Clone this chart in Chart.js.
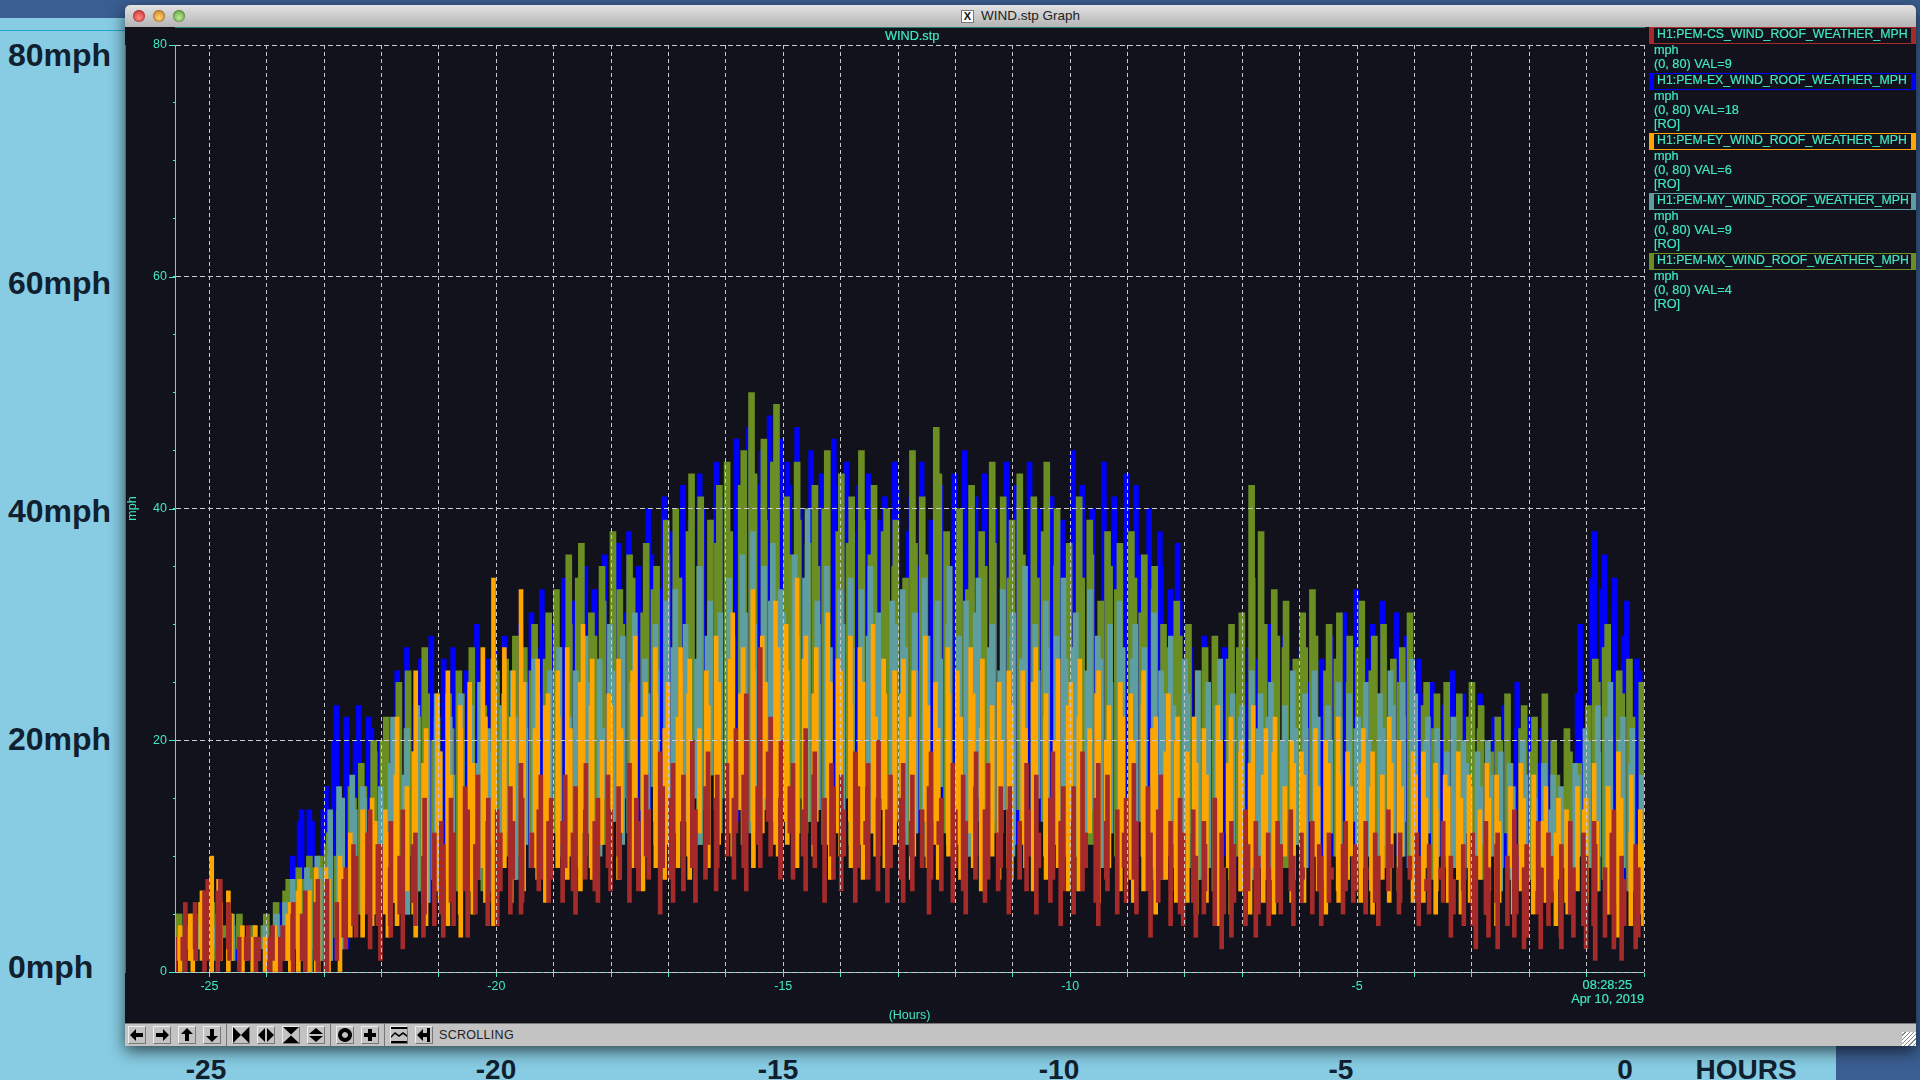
<!DOCTYPE html>
<html>
<head>
<meta charset="utf-8">
<title>WIND.stp Graph</title>
<script src="https://cdn.jsdelivr.net/npm/chart.js@4"></script>
<style>
  html, body { margin: 0; width: 1920px; height: 1080px; overflow: hidden; background: #3a5e91; }
  #panel { position: absolute; left: 0; top: 18px; width: 1836px; height: 1062px; background: #87cce3; }
  #rule { position: absolute; left: 0; top: 30px; width: 125px; height: 1px; background: #1da7cc; }
  .big { position: absolute; font: bold 32px "Liberation Sans", sans-serif; color: #10202f; line-height: 1; white-space: nowrap; }
  .low { font-size: 28px; transform: translateX(-50%); top: 1056px; }
  #win { position: absolute; left: 125px; top: 5px; width: 1791px; height: 1041px; background: #12121c; border-radius: 5px 5px 0 0; box-shadow: 0 5px 16px rgba(0,0,0,.65); overflow: hidden; }
  #bar { position: absolute; left: 0; top: 0; width: 100%; height: 22px; background: linear-gradient(#e2e2e2, #b4b4b4); }
  .dot { position: absolute; top: 5px; width: 12px; height: 12px; border-radius: 50%; box-shadow: inset 0 0 2px rgba(0,0,0,.6); }
  #name { position: absolute; left: 856px; top: 3px; font: 13.5px "Liberation Sans", sans-serif; color: #222; }
  #xicon { position: absolute; left: 836px; top: 5px; width: 11px; height: 11px; background: #fff; border: 1px solid #777; font: bold 11px/11px "Liberation Sans", sans-serif; text-align: center; color: #111; }
  #cw { position: absolute; left: 0; top: 22px; width: 1791px; height: 996px; }
  #tools { position: absolute; left: 0; top: 1018px; width: 100%; height: 23px; background: #c3c3c3; border-top: 1px solid #777; box-sizing: border-box; }
  .btn { position: absolute; top: 2px; width: 18px; height: 18px; box-sizing: border-box; border: 1px solid; border-color: #eee #777 #777 #eee; }
  .btn svg { position: absolute; left: -1px; top: -1px; width: 18px; height: 18px; }
  .sep { position: absolute; top: 0; width: 1px; height: 23px; background: #777; }
  #scroll { position: absolute; left: 314px; top: 4px; font: 12.5px "Liberation Sans", sans-serif; color: #222; letter-spacing: .3px; }
  #grip { position: absolute; right: 0; bottom: 0; width: 14px; height: 14px; background: repeating-linear-gradient(135deg, #fff 0 2px, #888 2px 3px); }
  .tx { position: absolute; font: 12.7px "Liberation Sans", sans-serif; color: #40e8c4; white-space: nowrap; line-height: 14px; -webkit-text-stroke: .2px #40e8c4; }
  .lg { position: absolute; left: 1524px; width: 267px; height: 17px; box-sizing: border-box; border-style: solid; border-width: 1px 5px; font: 12.3px/13px "Liberation Sans", sans-serif; color: #40e8c4; -webkit-text-stroke: .2px #40e8c4; padding-left: 3px; white-space: nowrap; }
</style>
</head>
<body>
<div id="panel"></div>
<div id="rule"></div>
<div class="big" style="left:8px;top:39px">80mph</div>
<div class="big" style="left:8px;top:267px">60mph</div>
<div class="big" style="left:8px;top:495px">40mph</div>
<div class="big" style="left:8px;top:723px">20mph</div>
<div class="big" style="left:8px;top:951px">0mph</div>
<div class="big low" style="left:206px">-25</div>
<div class="big low" style="left:496px">-20</div>
<div class="big low" style="left:778px">-15</div>
<div class="big low" style="left:1059px">-10</div>
<div class="big low" style="left:1341px">-5</div>
<div class="big low" style="left:1625px">0</div>
<div class="big low" style="left:1746px">HOURS</div>
<div id="win">
  <div id="bar">
    <div class="dot" style="left:8px;background:radial-gradient(circle at 50% 65%,#ff8a80,#c8242a)"></div>
    <div class="dot" style="left:28px;background:radial-gradient(circle at 50% 65%,#ffd070,#c87a1a)"></div>
    <div class="dot" style="left:48px;background:radial-gradient(circle at 50% 65%,#b8e890,#5c9a3a)"></div>
    <div id="xicon">X</div>
    <div id="name">WIND.stp Graph</div>
  </div>
  <div id="cw"><canvas id="chart"></canvas></div>
  <div class="tx" style="left:760px;top:24px">WIND.stp</div>
  <div class="tx" style="right:284px;top:973px">08:28:25</div>
  <div class="tx" style="right:272px;top:987px">Apr 10, 2019</div>
  <div id="legend"></div>
  <div id="tools">
    <div id="scroll">SCROLLING</div>
    <div id="grip"></div>
  </div>
</div>
<script>
const HOUR_TICKS = [-25,-24,-23,-22,-21,-20,-19,-18,-17,-16,-15,-14,-13,-12,-11,-10,-9,-8,-7,-6,-5,-4,-3,-2,-1,0];
const MPH_TICKS = [0,5,10,15,20,25,30,35,40,45,50,55,60,65,70,75,80];
const T_START = -25.6;
const T_STEP = 0.1;

const LEGEND_NAMES = ["H1:PEM-CS_WIND_ROOF_WEATHER_MPH","H1:PEM-EX_WIND_ROOF_WEATHER_MPH","H1:PEM-EY_WIND_ROOF_WEATHER_MPH","H1:PEM-MY_WIND_ROOF_WEATHER_MPH","H1:PEM-MX_WIND_ROOF_WEATHER_MPH"];
const LEGEND_VALS = [9,18,6,9,4];

// one row per hour, samples every 0.1 h from -25.6
const csHigh = [3,3,6,6,5,7,
8,7,8,6,5,3,3,4,3,3, 3,4,3,4,5,6,5,7,6,8, 7,8,6,8,9,11,10,12,14,11, 11,9,13,10,14,11,12,10,15,12,
13,11,15,12,16,14,11,17,13,15, 14,12,16,13,18,15,12,14,17,13, 15,13,17,12,16,14,18,13,15,17, 14,16,12,18,15,13,17,14,19,16,
15,18,13,17,20,14,16,19,15,17, 18,15,21,17,24,16,28,19,22,15, 20,16,18,14,21,17,19,15,18,16, 17,14,19,16,13,18,15,20,14,17,
15,18,13,17,14,16,19,13,15,18, 14,17,13,16,19,14,18,12,16,14, 16,13,18,14,17,12,15,19,13,16, 13,16,19,12,15,18,13,17,14,12,
15,18,13,16,12,14,17,13,11,15, 12,14,10,13,11,15,12,9,13,11, 14,11,13,10,12,9,13,11,14,10, 12,9,13,11,10,12,8,11,13,10,
11,13,9,12,10,14,11,9,12,10, 12,10,8,11,9,13,10,8,11,9, 12,10,13,9,11,12,10,14,11,9, 11,13,9,12,10,8,11,13,9,12,
10,13,11,9,12,14,10,8,11,9, 7];

const exHigh = [2,3,3,4,4,3,
4,4,3,4,3,2,2,3,2,3, 3,4,3,6,10,13,14,14,13,14, 16,20,23,22,21,20,23,22,21,20, 18,21,26,24,28,23,27,25,29,22,
27,25,28,23,26,24,30,22,27,28, 25,29,24,27,30,26,31,28,33,30, 29,34,27,32,30,35,28,33,31,36, 34,37,31,38,35,32,40,36,33,41,
38,35,42,39,36,43,40,37,44,41, 43,46,40,44,47,42,45,48,41,46, 44,42,47,40,45,41,43,38,46,42, 40,44,38,42,36,43,39,41,37,44,
42,38,41,35,44,39,37,42,36,43, 39,45,37,41,35,43,38,40,44,36, 42,38,35,44,40,37,41,34,39,36, 45,38,42,36,40,44,37,41,35,43,
39,42,36,40,34,38,35,33,37,32, 30,28,26,29,24,27,25,28,23,26, 25,28,24,27,30,26,23,29,27,24, 28,25,30,27,24,29,26,31,28,25,
33,27,30,25,32,28,31,26,29,24, 27,24,22,25,20,23,26,21,24,19, 21,24,18,22,20,23,17,21,25,19, 22,18,21,17,20,16,19,18,24,30,
34,38,33,36,31,34,29,32,27,26, 18];

const eyHigh = [3,4,5,5,6,7,
10,8,6,7,5,4,3,3,4,3, 3,4,3,5,6,7,8,7,9,8, 9,8,10,9,12,11,14,12,15,13, 14,12,17,22,16,19,26,18,21,24,
19,26,17,23,21,25,18,28,22,34, 24,28,22,26,33,25,21,27,23,24, 26,22,28,21,25,30,23,27,20,24, 23,27,21,26,29,22,25,28,24,21,
25,22,28,24,27,21,26,23,29,25, 27,31,24,28,33,26,29,25,32,28, 30,26,34,27,29,24,28,31,25,27, 26,29,23,28,25,30,22,27,24,26,
24,27,22,26,29,23,25,21,28,24, 26,22,28,24,21,27,23,25,20,26, 23,26,21,25,28,22,24,20,27,23, 25,22,27,21,24,26,20,23,25,22,
24,20,23,26,21,22,19,24,20,22, 19,22,18,21,17,23,20,18,22,19, 20,18,23,17,21,19,22,16,20,18, 19,17,21,16,20,18,22,17,19,16,
18,21,16,19,17,22,18,20,16,19, 17,19,15,18,14,17,16,19,15,17, 16,14,18,15,17,13,16,14,18,15, 14,17,13,16,12,15,14,13,16,14,
15,18,13,16,14,19,15,12,17,14, 11];

const myHigh = [2,3,2,4,4,3,
4,5,3,5,4,3,2,3,2,4, 3,5,4,6,8,7,9,8,10,9, 10,14,16,15,17,14,16,15,13,16, 14,18,22,17,21,19,23,18,20,24,
19,22,17,24,20,23,18,25,21,19, 23,20,26,22,25,21,27,24,20,26, 24,28,22,26,23,29,25,27,21,30, 26,23,29,25,31,27,24,30,26,32,
28,33,26,30,27,35,29,32,28,31, 34,29,36,31,38,30,35,32,37,33, 31,36,29,34,40,32,30,35,28,33, 30,34,28,33,29,35,31,27,32,30,
33,28,31,26,34,29,32,27,30,35, 29,32,27,31,34,28,30,26,33,29, 31,27,35,30,26,32,28,29,34,27, 28,31,26,33,29,27,30,25,32,28,
27,30,25,28,31,26,24,29,23,27, 24,22,26,21,25,23,27,20,24,22, 23,26,21,24,22,25,20,23,26,21, 24,21,26,22,23,20,25,22,24,21,
22,25,20,24,21,26,23,25,22,27, 24,20,22,18,21,19,22,17,20,18, 19,16,20,17,15,19,18,16,20,17, 17,15,18,14,17,16,14,18,17,21,
20,23,19,22,25,20,22,18,21,17, 16];

const mxHigh = [5,5,4,5,6,6,
6,5,4,5,4,5,3,4,3,4, 5,6,5,7,8,9,8,10,9,10, 11,12,10,14,16,15,18,16,20,19, 20,22,19,25,21,26,22,28,24,20,
22,24,21,26,24,22,28,25,23,27, 26,24,27,29,25,28,26,30,27,31, 33,28,36,30,34,37,31,29,35,32, 38,33,30,36,34,31,37,33,35,39,
36,40,34,38,43,35,41,39,37,42, 44,38,42,45,50,43,46,39,44,49, 41,36,44,39,37,42,35,40,45,38, 43,37,41,45,39,36,42,38,40,35,
39,34,45,37,41,36,47,43,38,35, 36,40,33,42,38,35,44,37,41,34, 39,43,36,41,34,38,44,35,40,33, 37,41,34,39,36,32,38,35,33,37,
38,34,31,36,33,35,30,28,32,29, 27,30,26,28,25,29,24,27,30,28, 31,42,34,38,30,33,29,28,32,27, 31,28,33,29,26,30,27,31,25,29,
28,32,26,29,24,30,27,25,28,31, 26,23,25,21,24,25,22,20,24,22, 25,21,23,19,22,20,24,18,21,23, 19,22,18,24,20,17,21,19,16,18,
23,27,25,28,30,26,24,27,22,25, 20];

const csLow = [0,1,0,2,1,0,
1,0,1,2,1,0,1,1,0,1, 0,1,0,1,1,0,1,0,1,0, 0,0,1,3,2,4,3,5,2,4, 1,4,3,5,2,6,4,3,5,4,
5,3,6,4,7,3,5,8,4,6, 4,7,5,8,5,6,9,7,8,6, 8,6,9,7,5,8,10,7,6,9, 7,10,8,6,9,7,10,8,5,9,
8,6,10,7,9,6,8,11,7,9, 10,8,12,9,7,11,9,13,10,8, 9,12,8,10,7,11,9,6,10,8, 7,10,6,9,11,8,7,10,6,9,
8,6,10,7,9,5,8,11,7,6, 9,7,5,8,10,6,8,7,9,5, 6,8,7,10,5,9,6,8,4,7, 8,5,7,9,6,4,8,7,5,9,
6,8,5,7,3,6,8,4,7,5, 4,6,3,5,7,4,2,5,3,6, 4,7,3,5,8,4,6,5,7,4, 6,8,5,7,4,6,9,5,7,6,
7,5,8,6,4,7,9,5,6,8, 6,4,7,5,8,6,3,5,7,4, 4,2,5,3,6,2,4,3,5,2, 3,5,2,4,6,3,2,5,3,4,
2,4,1,3,5,2,1,4,2,3, 3];

const eyLow = [1,0,1,0,2,1,
0,2,1,0,1,0,1,0,1,0, 1,0,0,1,0,0,1,0,0,0, 0,0,0,4,3,5,3,6,4,5, 5,3,6,4,7,5,3,6,4,7,
6,4,8,5,3,7,5,9,6,4, 7,9,6,8,10,7,9,8,6,10, 9,11,8,10,7,12,9,8,11,10, 10,8,12,9,11,7,10,13,9,8,
11,9,13,10,8,12,10,9,14,11, 12,10,14,11,13,9,12,15,11,10, 13,11,9,14,12,10,13,11,8,12, 10,13,9,11,8,12,10,14,9,11,
9,12,8,10,13,9,11,8,12,10, 11,8,12,9,7,11,10,8,12,9, 8,11,9,7,12,10,8,11,9,7, 10,7,9,12,8,6,10,9,7,11,
8,6,10,7,9,5,8,10,6,8, 6,9,5,8,6,4,7,9,5,7, 7,5,9,6,8,5,7,10,6,8, 8,6,10,7,5,9,7,6,8,10,
6,9,7,5,8,6,9,7,10,6, 8,6,9,5,7,10,6,8,5,9, 6,8,5,7,4,6,9,5,7,8, 5,7,9,6,4,8,6,5,7,9,
6,4,7,5,8,3,6,4,7,5, 4];

// EX, MY and MX bottoms are mostly hidden behind the front traces
const backLow = [1,2,3,1,2,3,
2,1,3,2,1,2,1,3,1,2, 2,1,2,1,3,2,1,0,2,1, 2,1,3,2,4,6,5,7,6,8, 7,9,6,8,5,10,7,9,6,8,
10,8,11,7,9,12,8,10,7,11, 9,12,10,8,13,11,9,12,10,14, 12,10,14,11,9,13,12,10,15,11, 13,11,15,12,10,14,12,16,11,13,
14,12,16,13,15,11,14,17,12,15, 15,13,17,14,12,16,14,18,13,15, 14,16,12,15,13,17,14,11,15,13, 12,15,11,14,16,12,13,15,11,14,
13,11,15,12,14,10,13,16,12,11, 14,12,10,13,15,11,13,12,14,10, 11,14,12,10,15,13,11,14,12,10, 13,10,12,14,11,9,13,12,10,14,
11,9,13,10,12,8,11,13,9,11, 9,12,8,11,9,7,10,12,8,10, 10,8,12,9,11,8,10,13,9,11, 11,9,13,10,8,12,10,9,11,13,
9,12,10,8,11,9,12,10,13,9, 11,9,12,8,10,13,9,11,8,12, 9,11,8,10,7,9,12,8,10,11, 8,10,12,9,7,11,9,8,10,12,
9,7,10,8,11,6,9,7,10,8, 7];

// sample time slips of each scope trace, hours
const SLIP = [0,.035,-.02,.05,-.04,.015,-.03,.045,-.01,.03,-.05,.02,.04,-.025,.01,-.045,.055];

const TEAL_TEXT = "#40e8c4";
const GRID_GREY = "#c9c9c9";
const TICK_FONT = { family: "Liberation Sans", size: 12.5 };
const C_RED = "#a52a2a", C_BLUE = "#0000ff", C_ORANGE = "#ffa500", C_TEAL = "#5f9ea0", C_GREEN = "#6b8e23";

// legend column
const LEGEND_COLORS = [C_RED, C_BLUE, C_ORANGE, C_TEAL, C_GREEN];
const LEGEND_TOPS = [22, 68, 128, 188, 248];
const legendEl = document.getElementById("legend");
LEGEND_NAMES.forEach((n, i) => {
  const top = LEGEND_TOPS[i];
  let html = `<div class="lg" style="top:${top}px;border-color:${LEGEND_COLORS[i]}">${n}</div>`;
  html += `<div class="tx" style="left:1529px;top:${top + 16}px">mph</div>`;
  html += `<div class="tx" style="left:1529px;top:${top + 30}px">(0, 80) VAL=${LEGEND_VALS[i]}</div>`;
  if (i > 0) html += `<div class="tx" style="left:1529px;top:${top + 44}px">[RO]</div>`;
  legendEl.insertAdjacentHTML("beforeend", html);
});

// toolbar
const BTN_LEFT = [3,28,53,78,107,132,157,182,211,236,265,290];
const SEP_LEFT = [101,205,259];
const BTN_ICONS = [
  "M2 9 8 3V7H15V11H8V15Z",
  "M16 9 10 3V7H3V11H10V15Z",
  "M9 2 15 8H11V15H7V8H3Z",
  "M9 16 15 10H11V3H7V10H3Z",
  "M1 1 9 9 1 17ZM17 1 9 9 17 17Z",
  "M8 2V16L1 9ZM10 2V16L17 9Z",
  "M1 1H17L9 8.5ZM1 17H17L9 9.5Z",
  "M9 2 16 8H2ZM9 16 16 10H2Z",
  "M9 2a7 7 0 1 0 .01 0ZM9 6a3 3 0 1 1-.01 0Z",
  "M7 3H11V7H15V11H11V15H7V11H3V7H7Z",
  "M1 1H17V3H1ZM1 15H17V17H1ZM1 10 5 6 9 9 13 6 17 9V11L13 8 9 11 5 8 1 12Z",
  "M2 9 8 3V7H12V2H15V16H12V11H8V15Z"
];
const tools = document.getElementById("tools");
BTN_LEFT.forEach((x, i) => {
  tools.insertAdjacentHTML("beforeend", `<div class="btn" style="left:${x}px"><svg viewBox="0 0 18 18"><path fill="#000" fill-rule="evenodd" d="${BTN_ICONS[i]}"/></svg></div>`);
});
SEP_LEFT.forEach(x => tools.insertAdjacentHTML("beforeend", `<div class="sep" style="left:${x}px"></div>`));

function trace(label, color, lows, highs, phase, thick) {
  return {
    label: label,
    backgroundColor: color,
    borderWidth: 0,
    barThickness: thick,
    grouped: false,
    data: highs.map((h, i) => ({
      x: T_START + i * T_STEP + SLIP[(i + phase) % SLIP.length] + phase * 0.004,
      y: [lows[i], h],
    })),
  };
}

// solid teal axes and the longer major ticks on the mph axis
const axisMarks = {
  id: "axisMarks",
  afterDatasetsDraw(chart) {
    const { ctx, chartArea, scales } = chart;
    ctx.save();
    ctx.strokeStyle = TEAL_TEXT;
    ctx.lineWidth = 1;
    ctx.beginPath();
    ctx.moveTo(chartArea.left + 0.5, chartArea.top);
    ctx.lineTo(chartArea.left + 0.5, chartArea.bottom);
    ctx.moveTo(chartArea.left, chartArea.bottom + 0.5);
    ctx.lineTo(chartArea.right, chartArea.bottom + 0.5);
    MPH_TICKS.filter((v) => v % 20 === 0).forEach((v) => {
      const y = Math.round(scales.y.getPixelForValue(v)) + 0.5;
      ctx.moveTo(chartArea.left - 6, y);
      ctx.lineTo(chartArea.left, y);
    });
    ctx.stroke();
    ctx.restore();
  },
};

const canvas = document.getElementById("chart");
canvas.width = 1791;
canvas.height = 996;

// first dataset ends up on top
new Chart(canvas.getContext("2d"), {
  type: "bar",
  data: {
    datasets: [
      trace(LEGEND_NAMES[0], C_RED, csLow, csHigh, 0, 4),
      trace(LEGEND_NAMES[2], C_ORANGE, eyLow, eyHigh, 5, 4),
      trace(LEGEND_NAMES[3], C_TEAL, backLow, myHigh, 11, 5),
      trace(LEGEND_NAMES[4], C_GREEN, backLow, mxHigh, 3, 6),
      trace(LEGEND_NAMES[1], C_BLUE, backLow, exHigh, 8, 5),
    ],
  },
  plugins: [axisMarks],
  options: {
    responsive: false,
    animation: false,
    layout: { padding: { top: 18, right: 272, left: 0, bottom: 0 } },
    plugins: { legend: { display: false }, title: { display: false }, tooltip: { enabled: false } },
    scales: {
      x: {
        type: "linear",
        min: T_START,
        max: 0,
        offset: false,
        afterFit: (s) => { s.height = 51; },
        afterBuildTicks: (s) => { s.ticks = HOUR_TICKS.map((v) => ({ value: v })); },
        grid: { offset: false, z: 2, color: GRID_GREY, tickColor: TEAL_TEXT, tickLength: 5, lineWidth: 1 },
        border: { z: 1, color: TEAL_TEXT, dash: [4, 3] },
        title: { display: true, text: "(Hours)", color: TEAL_TEXT, font: TICK_FONT, padding: 0 },
        ticks: {
          color: TEAL_TEXT,
          font: TICK_FONT,
          padding: 2,
          autoSkip: false,
          maxRotation: 0,
          callback: (v) => (v % 5 === 0 && v !== 0 ? String(v) : ""),
        },
      },
      y: {
        min: 0,
        max: 80,
        afterFit: (s) => { s.width = 50; },
        afterBuildTicks: (s) => { s.ticks = MPH_TICKS.map((v) => ({ value: v })); },
        grid: {
          z: 2,
          color: (c) => (c.tick && c.tick.value % 20 === 0 ? GRID_GREY : "rgba(0,0,0,0)"),
          tickColor: TEAL_TEXT,
          tickLength: 2,
        },
        border: { z: 1, color: TEAL_TEXT, dash: [5, 3] },
        title: { display: true, text: "mph", color: TEAL_TEXT, font: TICK_FONT, padding: 0 },
        ticks: {
          color: TEAL_TEXT,
          font: TICK_FONT,
          padding: 6,
          callback: (v) => (v % 20 === 0 ? String(v) : ""),
        },
      },
    },
  },
});
</script>
</body>
</html>
